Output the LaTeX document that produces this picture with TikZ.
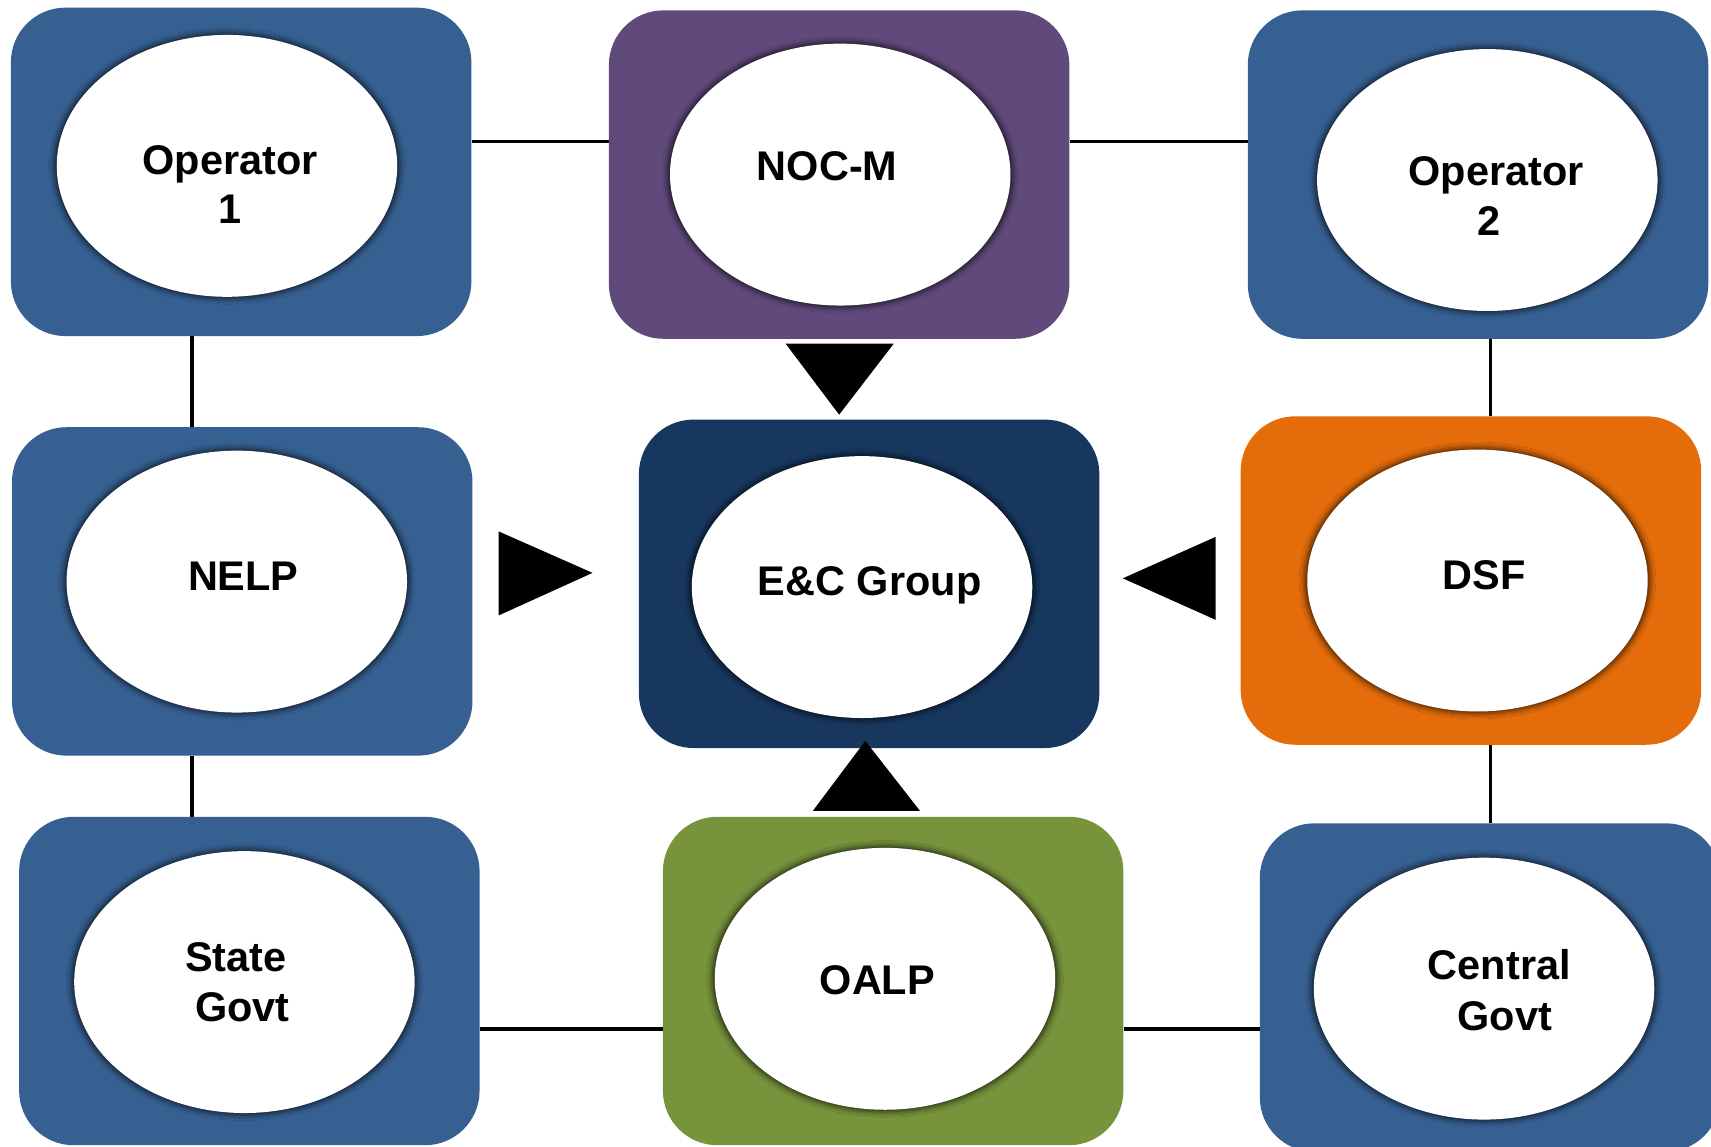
\documentclass[tikz,border=0pt]{standalone}
\usepackage{fontspec}
\setmainfont{Liberation Sans}
\usetikzlibrary{shapes.geometric,shadows.blur}
\definecolor{cblue}{RGB}{55,96,146}
\definecolor{cpurple}{RGB}{96,74,123}
\definecolor{cnavy}{RGB}{24,55,94}
\definecolor{corange}{RGB}{228,108,10}
\definecolor{cgreen}{RGB}{119,147,60}
\tikzset{
  box/.style={rectangle, rounded corners=50pt, minimum width=422pt, minimum height=301pt, inner sep=0pt, draw=none},
  oval/.style={ellipse, fill=white, minimum width=312pt, minimum height=240pt, inner sep=0pt,
     blur shadow={shadow xshift=0pt, shadow yshift=0pt, shadow blur radius=5pt, shadow opacity=70, shadow scale=1.015}},
  lbl/.style={anchor=base, font=\bfseries\fontsize{38}{46}\selectfont, text=black, inner sep=0pt},
  conn/.style={draw=black, line width=3pt},
  tri/.style={fill=black, draw=none}
}
\begin{document}
\begin{tikzpicture}[x=1pt, y=-1pt]
\useasboundingbox (0,0) rectangle (1568,1051);
\fill[white] (0,0) rectangle (1568,1051);
% connector reference coordinates
\coordinate (htop) at (0,130);
\coordinate (hbot) at (0,943);
\coordinate (vleft) at (176,0);
\coordinate (vright) at (1366,0);
% boxes
\node[box, fill=cblue]   (op1)  at (221,157.5) {};
\node[box, fill=cpurple] (noc)  at (769,160) {};
\node[box, fill=cblue]   (op2)  at (1354.5,160) {};
\node[box, fill=cblue]   (nelp) at (222,542) {};
\node[box, fill=cnavy]   (ec)   at (796.5,535) {};
\node[box, fill=corange] (dsf)  at (1348,532) {};
\node[box, fill=cblue]   (state) at (228.5,899) {};
\node[box, fill=cgreen]  (oalp) at (818.5,899) {};
\node[box, fill=cblue]   (cent) at (1365.5,905) {};
% connectors
\draw[conn] (op1.east |- htop) -- (noc.west |- htop);
\draw[conn] (noc.east |- htop) -- (op2.west |- htop);
\draw[conn] (op1.south -| vleft) -- (nelp.north -| vleft);
\draw[conn] (nelp.south -| vleft) -- (state.north -| vleft);
\draw[conn] (op2.south -| vright) -- (dsf.north -| vright);
\draw[conn] (dsf.south -| vright) -- (cent.north -| vright);
\draw[conn] (state.east |- hbot) -- (oalp.west |- hbot);
\draw[conn] (oalp.east |- hbot) -- (cent.west |- hbot);
% ellipses
\node[oval] (eop1)  at (208,152) {};
\node[oval] (enoc)  at (770,160) {};
\node[oval] (eop2)  at (1363,165) {};
\node[oval] (enelp) at (217,533) {};
\node[oval] (eec)   at (790,538) {};
\node[oval] (edsf)  at (1354,532) {};
\node[oval] (estate) at (224,900) {};
\node[oval] (eoalp) at (811,897) {};
\node[oval] (ecent) at (1360,906) {};
% labels
\node[lbl] (t1a) at (211,160) {Operator};
\node[lbl] (t1b) at (211,205) {1};
\node[lbl] (t2)  at (758,165) {NOC-M};
\node[lbl] (t3a) at (1371,170) {Operator};
\node[lbl] (t3b) at (1365,216) {2};
\node[lbl] (t4)  at (223,541) {NELP};
\node[lbl] (t5)  at (797,546) {E\&C Group};
\node[lbl] (t6)  at (1360,540) {DSF};
\node[lbl] (t7a) at (216,890) {State};
\node[lbl] (t7b) at (222,936) {Govt};
\node[lbl] (t8)  at (804,911) {OALP};
\node[lbl] (t9a) at (1374,898) {Central};
\node[lbl] (t9b) at (1379,944) {Govt};
% arrowheads toward the centre
\coordinate (pd) at (769,380);
\coordinate (pr) at (543,525);
\coordinate (pl) at (1029,530);
\coordinate (pu) at (793,679);
\fill[tri] (720,315) -- (819,315) -- (pd) -- cycle;
\fill[tri] (457,487) -- (457,564) -- (pr) -- cycle;
\fill[tri] (1114,492) -- (1114,568) -- (pl) -- cycle;
\fill[tri] (745,743) -- (843,743) -- (pu) -- cycle;
\end{tikzpicture}
\end{document}
